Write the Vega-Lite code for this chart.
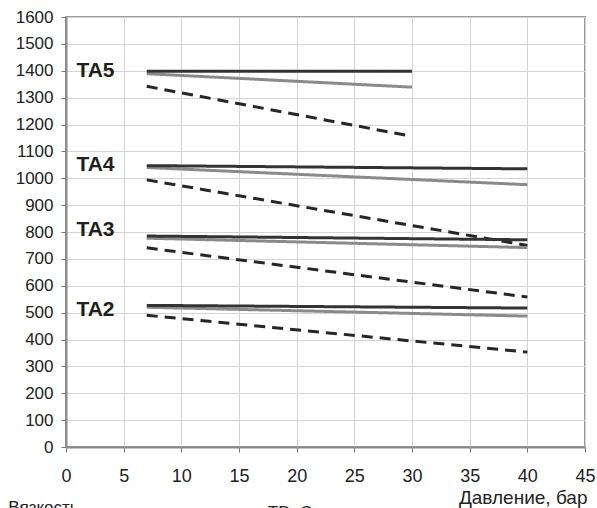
{
  "$schema": "https://vega.github.io/schema/vega-lite/v6.json",
  "width": 519,
  "height": 430,
  "autosize": "none",
  "padding": {"left": 66, "top": 17, "right": 12, "bottom": 61},
  "background": "white",
  "config": {
    "font": "Liberation Sans",
    "view": {"stroke": "#9a9a9a", "strokeWidth": 2},
    "axis": {
      "grid": true,
      "gridColor": "#d4d4d4",
      "gridWidth": 1,
      "domainColor": "#8a8a8a",
      "domainWidth": 2,
      "tickColor": "#777777",
      "tickWidth": 1,
      "tickSize": 5,
      "labelFontSize": 18,
      "labelColor": "#222222",
      "labelFont": "Liberation Sans",
      "labelOverlap": false,
      "labelFlush": false,
      "titleFont": "Liberation Sans",
      "titleFontSize": 19,
      "titleFontWeight": "normal",
      "titleColor": "#222222"
    }
  },
  "datasets": {
    "lines": [
      {"series": "TA5-alt", "kind": "alt", "pressure": 7, "viscosity": 1389},
      {"series": "TA5-alt", "kind": "alt", "pressure": 30, "viscosity": 1339},
      {"series": "TA5-base", "kind": "base", "pressure": 7, "viscosity": 1398},
      {"series": "TA5-base", "kind": "base", "pressure": 30, "viscosity": 1398},
      {"series": "TA5-dash", "kind": "dash", "pressure": 7, "viscosity": 1342},
      {"series": "TA5-dash", "kind": "dash", "pressure": 30, "viscosity": 1156},
      {"series": "TA4-alt", "kind": "alt", "pressure": 7, "viscosity": 1040},
      {"series": "TA4-alt", "kind": "alt", "pressure": 40, "viscosity": 976},
      {"series": "TA4-base", "kind": "base", "pressure": 7, "viscosity": 1047},
      {"series": "TA4-base", "kind": "base", "pressure": 40, "viscosity": 1035},
      {"series": "TA4-dash", "kind": "dash", "pressure": 7, "viscosity": 994},
      {"series": "TA4-dash", "kind": "dash", "pressure": 40, "viscosity": 750},
      {"series": "TA3-alt", "kind": "alt", "pressure": 7, "viscosity": 777},
      {"series": "TA3-alt", "kind": "alt", "pressure": 40, "viscosity": 742},
      {"series": "TA3-base", "kind": "base", "pressure": 7, "viscosity": 785},
      {"series": "TA3-base", "kind": "base", "pressure": 40, "viscosity": 771},
      {"series": "TA3-dash", "kind": "dash", "pressure": 7, "viscosity": 741},
      {"series": "TA3-dash", "kind": "dash", "pressure": 40, "viscosity": 558},
      {"series": "TA2-alt", "kind": "alt", "pressure": 7, "viscosity": 520},
      {"series": "TA2-alt", "kind": "alt", "pressure": 40, "viscosity": 487},
      {"series": "TA2-base", "kind": "base", "pressure": 7, "viscosity": 527},
      {"series": "TA2-base", "kind": "base", "pressure": 40, "viscosity": 517},
      {"series": "TA2-dash", "kind": "dash", "pressure": 7, "viscosity": 490},
      {"series": "TA2-dash", "kind": "dash", "pressure": 40, "viscosity": 353}
    ],
    "labels": [
      {"label": "TA5", "pressure": 0.9, "viscosity": 1399},
      {"label": "TA4", "pressure": 0.9, "viscosity": 1051},
      {"label": "TA3", "pressure": 0.9, "viscosity": 809},
      {"label": "TA2", "pressure": 0.9, "viscosity": 510}
    ],
    "notes": [
      {"note": "Вязкость", "pressure": -5, "viscosity": -244},
      {"note": "TD, Ст", "pressure": 17.5, "viscosity": -266}
    ]
  },
  "encoding": {
    "x": {
      "field": "pressure",
      "type": "quantitative",
      "scale": {"domain": [0, 45], "nice": false},
      "axis": {
        "values": [0,5,10,15,20,25,30,35,40,45],
        "labelPadding": 15,
        "title": "Давление, бар",
        "titleX": 521,
        "titleY": 56,
        "titleAlign": "right",
        "titleBaseline": "alphabetic"
      }
    },
    "y": {
      "field": "viscosity",
      "type": "quantitative",
      "scale": {"domain": [0, 1600], "nice": false},
      "axis": {
        "values": [0,100,200,300,400,500,600,700,800,900,1000,1100,1200,1300,1400,1500,1600],
        "format": "d",
        "labelFontSize": 17,
        "labelPadding": 8,
        "title": null
      }
    }
  },
  "layer": [
    {
      "data": {"name": "lines"},
      "mark": {"type": "line", "strokeWidth": 3},
      "encoding": {
        "detail": {"field": "series"},
        "color": {
          "field": "kind",
          "type": "nominal",
          "scale": {"domain": ["alt", "base", "dash"], "range": ["#8a8a8a", "#333333", "#262626"]},
          "legend": null
        },
        "strokeDash": {
          "field": "kind",
          "type": "nominal",
          "scale": {"domain": ["alt", "base", "dash"], "range": [[1, 0], [1, 0], [11, 7]]},
          "legend": null
        }
      }
    },
    {
      "data": {"name": "labels"},
      "mark": {"type": "text", "align": "left", "baseline": "middle", "fontWeight": "bold", "fontSize": 21, "font": "Liberation Sans", "color": "#1e1e1e"},
      "encoding": {
        "text": {"field": "label"}
      }
    },
    {
      "data": {"name": "notes"},
      "mark": {"type": "text", "align": "left", "baseline": "alphabetic", "fontSize": 17, "font": "Liberation Sans", "color": "#222222"},
      "encoding": {
        "text": {"field": "note"}
      }
    }
  ]
}
